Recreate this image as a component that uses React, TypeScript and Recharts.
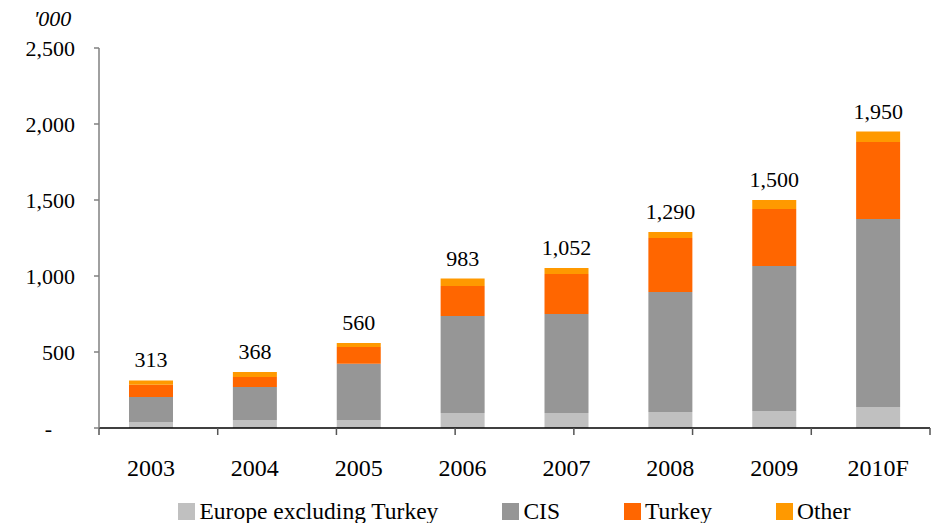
import React from 'react';
import { BarChart, Bar, XAxis, YAxis, Legend, LabelList } from 'recharts';

const years = ['2003', '2004', '2005', '2006', '2007', '2008', '2009', '2010F'];
const europe = [40, 53, 53, 99, 99, 105, 112, 138];
const cis = [164, 217, 370, 638, 651, 790, 954, 1237];
const turkey = [80, 66, 110, 197, 263, 355, 375, 507];
const other = [29, 32, 27, 49, 39, 40, 59, 68];
const totals = [313, 368, 560, 983, 1052, 1290, 1500, 1950];
const yTicks = [0, 500, 1000, 1500, 2000, 2500];
const sepTicks = [0, 1, 2, 3, 4, 5, 6, 7, 8];
const seriesNames = ['Europe excluding Turkey', 'CIS', 'Turkey', 'Other'];

const data = years.map((y, i) => ({
  year: y,
  europe: europe[i],
  cis: cis[i],
  turkey: turkey[i],
  other: other[i],
  total: totals[i],
}));

const FONT = '"Liberation Serif", "Times New Roman", serif';
const fmt = (v: number) => v.toLocaleString('en-US');

const YTick = (props: any) => {
  const { x, y, payload } = props;
  const v = payload.value as number;
  return (
    <text
      x={v === 0 ? x - 23 : x}
      y={y}
      dy={7.5}
      textAnchor="end"
      fontFamily={FONT}
      fontSize={22}
      fill="#000"
    >
      {v === 0 ? '-' : fmt(v)}
    </text>
  );
};

const EmptyTick = () => <g />;

const LegendContent = (props: any) => {
  const payload = [...(props.payload || [])].sort(
    (a: any, b: any) => seriesNames.indexOf(a.value) - seriesNames.indexOf(b.value)
  );
  return (
    <div
      style={{
        display: 'flex',
        justifyContent: 'center',
        alignItems: 'center',
        gap: 64,
        fontFamily: FONT,
        fontSize: 23.5,
        lineHeight: '22px',
        height: 22,
        color: '#000',
        whiteSpace: 'nowrap',
      }}
    >
      {payload.map((p: any) => (
        <div key={p.value} style={{ display: 'flex', alignItems: 'center' }}>
          <span
            style={{
              display: 'inline-block',
              width: 17,
              height: 17,
              background: p.color,
              marginRight: 4,
            }}
          />
          <span>{p.value}</span>
        </div>
      ))}
    </div>
  );
};

export default function App() {
  return (
    <div style={{ position: 'absolute', left: 0, top: 0, width: 934, height: 523, background: '#fff' }}>
      <BarChart
        width={934}
        height={523}
        data={data}
        margin={{ top: 48, right: 4, left: 0, bottom: 27 }}
      >
        <XAxis
          xAxisId="a_sep"
          type="number"
          domain={[0, 8]}
          ticks={sepTicks}
          interval={0}
          allowDataOverflow
          tick={<EmptyTick />}
          tickSize={7}
          height={8}
          axisLine={{ stroke: '#000', strokeWidth: 1.5 }}
          tickLine={{ stroke: '#555', strokeWidth: 1.5 }}
        />
        <XAxis
          xAxisId="b_cat"
          dataKey="year"
          axisLine={false}
          tickLine={false}
          tickSize={0}
          tickMargin={23}
          height={60}
          interval={0}
          tick={{ fontFamily: FONT, fontSize: 24, fill: '#000' }}
        />
        <YAxis
          width={99}
          domain={[0, 2500]}
          ticks={yTicks}
          interval={0}
          tickSize={5}
          tickMargin={19}
          axisLine={{ stroke: '#808080', strokeWidth: 1.5 }}
          tickLine={{ stroke: '#808080', strokeWidth: 1.5 }}
          tick={<YTick />}
          label={{
            value: "'000",
            position: 'top',
            offset: 22,
            dx: 3,
            style: { fontFamily: FONT, fontSize: 22, fontStyle: 'italic', fill: '#000' },
          }}
        />
        <Legend
          verticalAlign="middle"
          align="center"
          layout="horizontal"
          content={<LegendContent />}
          wrapperStyle={{ left: 99, top: 500, width: 831, height: 22 }}
        />
        <Bar xAxisId="b_cat" dataKey="europe" name={seriesNames[0]} stackId="a" fill="#C0C0C0" barSize={44} isAnimationActive={false} />
        <Bar xAxisId="b_cat" dataKey="cis" name={seriesNames[1]} stackId="a" fill="#969696" barSize={44} isAnimationActive={false} />
        <Bar xAxisId="b_cat" dataKey="turkey" name={seriesNames[2]} stackId="a" fill="#FF6600" barSize={44} isAnimationActive={false} />
        <Bar xAxisId="b_cat" dataKey="other" name={seriesNames[3]} stackId="a" fill="#FF9900" barSize={44} isAnimationActive={false}>
          <LabelList
            dataKey="total"
            position="top"
            offset={13}
            formatter={(v: any) => fmt(Number(v))}
            style={{ fontFamily: FONT, fontSize: 22, fill: '#000' }}
          />
        </Bar>
      </BarChart>
    </div>
  );
}
